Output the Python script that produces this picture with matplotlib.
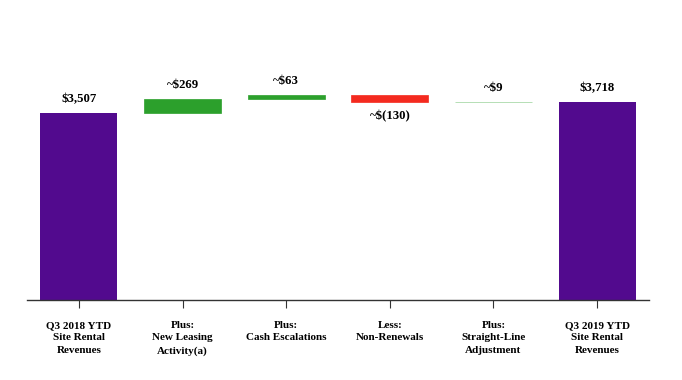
import matplotlib
matplotlib.use("Agg")
import matplotlib.pyplot as plt

categories = ["Q3 2018 YTD\nSite Rental\nRevenues", "Plus:\nNew Leasing\nActivity(a)",
              "Plus:\nCash Escalations", "Less:\nNon-Renewals",
              "Plus:\nStraight-Line\nAdjustment", "Q3 2019 YTD\nSite Rental\nRevenues"]
start_total = 3507
changes = [269, 63, -130, 9]
end_total = 3718
value_labels = ["$3,507", "~$269", "~$63", "~$(130)", "~$9", "$3,718"]

purple = "#520a8e"
green = "#2ca02c"
red = "#f42a1f"

fig = plt.figure(figsize=(6.82, 3.8), dpi=100)
ax = fig.add_axes([27/682, 80/380, (649-27)/682, 240/380])
ax.set_xlim(-0.5, 5.5)
ax.set_ylim(0, 4500)

font = dict(family="Liberation Serif", weight="bold")
w = 0.74

# totals
ax.bar(0, start_total, width=w, color=purple, linewidth=0)
ax.bar(5, end_total, width=w, color=purple, linewidth=0)

running = start_total
for i, ch in enumerate(changes, start=1):
    bottom = running if ch >= 0 else running + ch
    col = green if ch >= 0 else red
    if abs(ch) < 20:
        ax.bar(i, abs(ch), bottom=bottom, width=w, color="#9fd49f",
               edgecolor="#a9d9a9", linewidth=0.6)
    else:
        ax.bar(i, abs(ch), bottom=bottom, width=w, color=col,
               edgecolor=col, linewidth=0.5, alpha=1)
    top = bottom + abs(ch)
    if ch >= 0:
        ax.annotate(value_labels[i], (i, top), xytext=(0, 8), textcoords="offset pixels",
                    ha="center", va="bottom", fontsize=9.2, **font)
    else:
        ax.annotate(value_labels[i], (i, bottom), xytext=(0, -8), textcoords="offset pixels",
                    ha="center", va="top", fontsize=9.2, **font)
    running += ch

ax.annotate(value_labels[0], (0, start_total), xytext=(0, 8), textcoords="offset pixels",
            ha="center", va="bottom", fontsize=9.2, **font)
ax.annotate(value_labels[5], (5, end_total), xytext=(0, 8), textcoords="offset pixels",
            ha="center", va="bottom", fontsize=9.2, **font)

ax.set_xticks(range(6))
ax.set_xticklabels(categories, fontsize=8, linespacing=1.5, **font)
ax.tick_params(axis="x", length=6, width=0.8, color="#333333", pad=9)
ax.set_yticks([])
for s in ["top", "right", "left"]:
    ax.spines[s].set_visible(False)
ax.spines["bottom"].set_color("#333333")
ax.spines["bottom"].set_linewidth(1.0)

fig.savefig("out.png", dpi=100)
